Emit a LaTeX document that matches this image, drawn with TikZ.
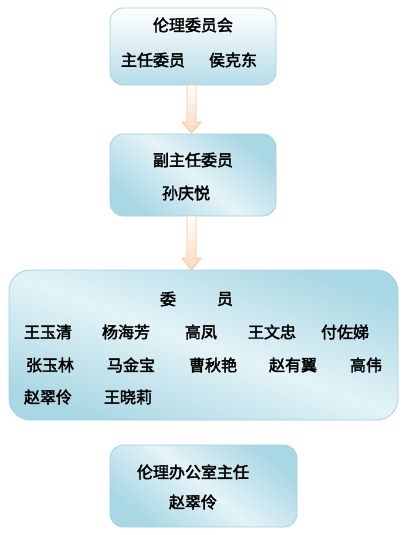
\documentclass[tikz,border=0pt]{standalone}
\usepackage{fontspec}
\setmainfont{Noto Sans CJK SC}[AutoFakeBold=2.5]
\usetikzlibrary{calc}
\definecolor{bordc}{HTML}{9FD2E0}
\definecolor{dkblue}{HTML}{A9D7E4}
\definecolor{ltblue}{HTML}{E4F3F7}
\definecolor{arrbord}{HTML}{F7C49C}
\definecolor{arrfill}{HTML}{FBD9BD}
\tikzset{
  px/.style={x=0.75pt,y=-0.75pt},
  boxa/.style={draw=bordc,line width=0.6pt,rounded corners=10pt,top color=white,bottom color=dkblue!85},
  boxb/.style={draw=bordc,line width=0.6pt,rounded corners=10pt,top color=dkblue,bottom color=dkblue,middle color=ltblue,shading angle=-40},
  boxc/.style={draw=bordc,line width=0.6pt,rounded corners=16pt,top color=dkblue,bottom color=dkblue,middle color=ltblue,shading angle=-20},
  arr/.style={draw=arrbord,line width=0.6pt,top color=white,bottom color=arrfill},
  txt/.style={font=\bfseries\fontsize{12pt}{14pt}\selectfont,inner sep=0pt,anchor=center}
}
\begin{document}
\begin{tikzpicture}[px]
\useasboundingbox (0,0) rectangle (407,535);
% boxes
\path[boxa] (110,8) rectangle (276,85);
\path[boxb] (110,134) rectangle (276,216);
\path[boxc] (9,270) rectangle (398,420);
\path[boxb] (110,445) rectangle (297,527);
% arrows
\path[arr] (187,85) -- (196,85) -- (196,122) -- (201,122) -- (191.5,133) -- (182,122) -- (187,122) -- cycle;
\path[arr] (187,216) -- (196,216) -- (196,258) -- (201,258) -- (191.5,270) -- (182,258) -- (187,258) -- cycle;
% texts box1
\node[txt] (t1) at (193,25) {伦理委员会};
\node[txt] (t2) at (153,60) {主任委员};
\node[txt] (t3) at (233,60) {侯克东};
% box2
\node[txt] (t4) at (193,160) {副主任委员};
\node[txt] (t5) at (186,193) {孙庆悦};
% box3
\node[txt] (w1) at (168,299) {委};
\node[txt] (w2) at (225,299) {员};
\node[txt] (m1) at (48,332) {王玉清};
\node[txt] (m2) at (126,332) {杨海芳};
\node[txt] (m3) at (201,332) {高凤};
\node[txt] (m4) at (272,332) {王文忠};
\node[txt] (m5) at (345,332) {付佐娣};
\node[txt] (m6) at (50,365) {张玉林};
\node[txt] (m7) at (131,365) {马金宝};
\node[txt] (m8) at (213,365) {曹秋艳};
\node[txt] (m9) at (293,365) {赵有翼};
\node[txt] (m10) at (366,365) {高伟};
\node[txt] (m11) at (48,397) {赵翠伶};
\node[txt] (m12) at (128,397) {王晓莉};
% box4
\node[txt] (t6) at (193,472) {伦理办公室主任};
\node[txt] (t7) at (193,502) {赵翠伶};
\end{tikzpicture}
\end{document}
